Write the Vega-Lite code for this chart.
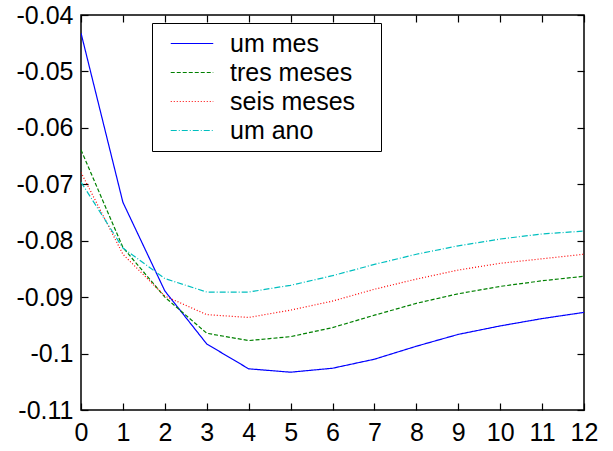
{
  "$schema": "https://vega.github.io/schema/vega-lite/v6.json",
  "width": 503,
  "height": 395,
  "autosize": {"type": "none"},
  "padding": {"left": 81, "top": 15, "right": 29, "bottom": 41},
  "background": "white",
  "config": {
    "view": {"stroke": "black", "strokeWidth": 1.5},
    "font": "Liberation Sans",
    "axis": {
      "grid": false,
      "domain": false,
      "ticks": true,
      "tickColor": "black",
      "tickSize": 7,
      "tickWidth": 1.2,
      "offset": -7,
      "labelFont": "Liberation Sans",
      "labelFontSize": 25,
      "labelColor": "black",
      "title": null
    }
  },
  "data": {
    "values": [
      {"x": 0, "y": -0.0432, "s": "um mes"},
      {"x": 1, "y": -0.0732, "s": "um mes"},
      {"x": 2, "y": -0.0889, "s": "um mes"},
      {"x": 3, "y": -0.0983, "s": "um mes"},
      {"x": 4, "y": -0.1027, "s": "um mes"},
      {"x": 5, "y": -0.1033, "s": "um mes"},
      {"x": 6, "y": -0.1026, "s": "um mes"},
      {"x": 7, "y": -0.1010, "s": "um mes"},
      {"x": 8, "y": -0.0987, "s": "um mes"},
      {"x": 9, "y": -0.0966, "s": "um mes"},
      {"x": 10, "y": -0.0951, "s": "um mes"},
      {"x": 11, "y": -0.0938, "s": "um mes"},
      {"x": 12, "y": -0.0927, "s": "um mes"},
      {"x": 0, "y": -0.0639, "s": "tres meses"},
      {"x": 1, "y": -0.0812, "s": "tres meses"},
      {"x": 2, "y": -0.0900, "s": "tres meses"},
      {"x": 3, "y": -0.0964, "s": "tres meses"},
      {"x": 4, "y": -0.0977, "s": "tres meses"},
      {"x": 5, "y": -0.0970, "s": "tres meses"},
      {"x": 6, "y": -0.0954, "s": "tres meses"},
      {"x": 7, "y": -0.0932, "s": "tres meses"},
      {"x": 8, "y": -0.0911, "s": "tres meses"},
      {"x": 9, "y": -0.0894, "s": "tres meses"},
      {"x": 10, "y": -0.0881, "s": "tres meses"},
      {"x": 11, "y": -0.0871, "s": "tres meses"},
      {"x": 12, "y": -0.0863, "s": "tres meses"},
      {"x": 0, "y": -0.0679, "s": "seis meses"},
      {"x": 1, "y": -0.0824, "s": "seis meses"},
      {"x": 2, "y": -0.0898, "s": "seis meses"},
      {"x": 3, "y": -0.0931, "s": "seis meses"},
      {"x": 4, "y": -0.0936, "s": "seis meses"},
      {"x": 5, "y": -0.0923, "s": "seis meses"},
      {"x": 6, "y": -0.0907, "s": "seis meses"},
      {"x": 7, "y": -0.0886, "s": "seis meses"},
      {"x": 8, "y": -0.0868, "s": "seis meses"},
      {"x": 9, "y": -0.0852, "s": "seis meses"},
      {"x": 10, "y": -0.0840, "s": "seis meses"},
      {"x": 11, "y": -0.0832, "s": "seis meses"},
      {"x": 12, "y": -0.0824, "s": "seis meses"},
      {"x": 0, "y": -0.0696, "s": "um ano"},
      {"x": 1, "y": -0.0813, "s": "um ano"},
      {"x": 2, "y": -0.0867, "s": "um ano"},
      {"x": 3, "y": -0.0891, "s": "um ano"},
      {"x": 4, "y": -0.0891, "s": "um ano"},
      {"x": 5, "y": -0.0879, "s": "um ano"},
      {"x": 6, "y": -0.0862, "s": "um ano"},
      {"x": 7, "y": -0.0842, "s": "um ano"},
      {"x": 8, "y": -0.0824, "s": "um ano"},
      {"x": 9, "y": -0.0809, "s": "um ano"},
      {"x": 10, "y": -0.0797, "s": "um ano"},
      {"x": 11, "y": -0.0788, "s": "um ano"},
      {"x": 12, "y": -0.0783, "s": "um ano"}
    ]
  },
  "resolve": {"axis": {"x": "independent", "y": "independent"}},
  "layer": [
    {
      "mark": {"type": "line", "strokeWidth": 1.2, "clip": true},
      "encoding": {
        "x": {
          "field": "x", "type": "quantitative",
          "scale": {"domain": [0, 12], "nice": false, "zero": false},
          "axis": {"orient": "bottom", "values": [0,1,2,3,4,5,6,7,8,9,10,11,12], "labelPadding": 10, "labelFlush": false}
        },
        "y": {
          "field": "y", "type": "quantitative",
          "scale": {"domain": [-0.11, -0.04], "nice": false, "zero": false},
          "axis": {"orient": "left", "values": [-0.11,-0.1,-0.09,-0.08,-0.07,-0.06,-0.05,-0.04], "labelPadding": 8, "labelFlush": false,
                   "labelExpr": "replace(format(datum.value, '.2~f'), '\u2212', '-')"}
        },
        "color": {
          "field": "s", "type": "nominal",
          "scale": {"domain": ["um mes", "tres meses", "seis meses", "um ano"], "range": ["#0000ff", "#008000", "#ff0000", "#00bfbf"]},
          "legend": {
            "title": null,
            "orient": "none",
            "legendX": 71,
            "legendY": 8,
            "strokeColor": "black",
            "fillColor": "white",
            "padding": 7,
            "symbolType": "M-1.7,0H1.7",
            "symbolSize": 625,
            "symbolStrokeWidth": 1.2,
            "symbolOffset": 19.5,
            "labelOffset": 24.5,
            "labelFont": "Liberation Sans",
            "labelFontSize": 25,
            "labelColor": "black",
            "labelLimit": 400,
            "rowPadding": 2,
            "labelExpr": "datum.label + '\u2800'",
            "encode": {"symbols": {"update": {
              "stroke": {"signal": "scale('color', datum.value)"},
              "strokeDash": {"signal": "scale('strokeDash', datum.value)"},
              "strokeOpacity": {"value": 1},
              "opacity": {"value": 1}
            }}}
          }
        },
        "strokeDash": {
          "field": "s", "type": "nominal",
          "scale": {"domain": ["um mes", "tres meses", "seis meses", "um ano"], "range": [[1, 0], [4, 2], [1, 2], [6, 2, 1, 2]]},
          "legend": null
        }
      }
    },
    {
      "mark": {"type": "point", "opacity": 0},
      "encoding": {
        "x": {
          "field": "x", "type": "quantitative",
          "scale": {"domain": [0, 12], "nice": false, "zero": false},
          "axis": {"orient": "top", "values": [0,1,2,3,4,5,6,7,8,9,10,11,12], "labels": false}
        },
        "y": {
          "field": "y", "type": "quantitative",
          "scale": {"domain": [-0.11, -0.04], "nice": false, "zero": false},
          "axis": {"orient": "right", "values": [-0.11,-0.1,-0.09,-0.08,-0.07,-0.06,-0.05,-0.04], "labels": false}
        }
      }
    }
  ]
}
